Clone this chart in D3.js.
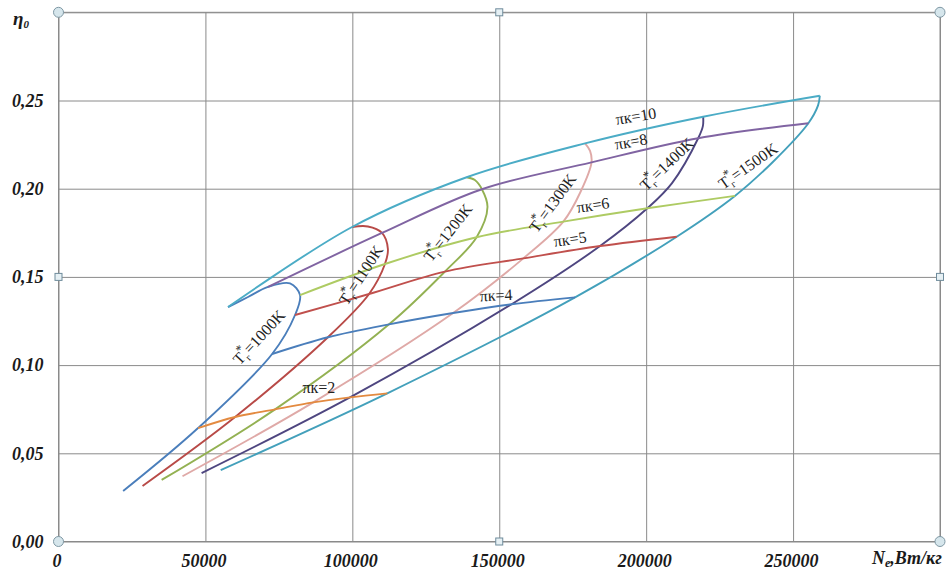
<!DOCTYPE html>
<html>
<head>
<meta charset="utf-8">
<script src="https://cdn.jsdelivr.net/npm/d3@7"></script>
<style>
  html, body { margin: 0; padding: 0; background: #fff; }
  svg { display: block; }
</style>
</head>
<body>
<svg id="chart" width="947" height="571"></svg>
<script>
// Compressor pressure ratio at each computed point of a temperature curve
const pressureRatio = [1.5, 2, 4, 5, 6, 7, 8, 9, 10];
// Pressure ratios drawn as constant-πк lines
const labelledRatios = [2, 4, 5, 6, 8, 10];
// Turbine inlet gas temperatures, K
const gasTemps = [1000, 1100, 1200, 1300, 1400, 1500];

// Specific power Ne (W/kg) and overall efficiency η0 for each gas temperature
const power1000 = [22000, 47500, 72700, 80500, 82200, 78800, 71300, 64500, 57700];
const eff1000   = [0.0286, 0.0643, 0.1063, 0.1284, 0.1397, 0.1463, 0.1443, 0.1386, 0.1329];

const power1100 = [28600, 60100, 91700, 105700, 111100, 112100, 110100, 105300, 99900];
const eff1100   = [0.0315, 0.0706, 0.1158, 0.1403, 0.1573, 0.1658, 0.1749, 0.1786, 0.1783];

const power1200 = [35100, 73700, 112500, 131500, 142300, 146000, 144100, 141700, 138900];
const eff1200   = [0.0349, 0.0749, 0.1231, 0.1530, 0.1725, 0.1896, 0.1997, 0.2049, 0.2065];

const power1300 = [42200, 86700, 134300, 158200, 171800, 177800, 181400, 180900, 179200];
const eff1300   = [0.0370, 0.0789, 0.1295, 0.1605, 0.1813, 0.1987, 0.2149, 0.2214, 0.2257];

const power1400 = [48700, 99200, 154200, 184300, 200400, 208800, 217700, 219300, 219400];
const eff1400   = [0.0388, 0.0817, 0.1345, 0.1675, 0.1889, 0.2032, 0.2286, 0.2355, 0.2408];

const power1500 = [55200, 111900, 175800, 210400, 230200, 243200, 255200, 258500, 259100];
const eff1500   = [0.0405, 0.0840, 0.1384, 0.1728, 0.1959, 0.2153, 0.2371, 0.2472, 0.2527];

// Axis ticks
const xTicks = [0, 50000, 100000, 150000, 200000, 250000, 300000];
const xTickLabels = ["0", "50000", "100000", "150000", "200000", "250000", ""];
const yTicks = [0, 0.05, 0.10, 0.15, 0.20, 0.25, 0.30];
const yTickLabels = ["0,00", "0,05", "0,10", "0,15", "0,20", "0,25", ""];

// ---- styling ----
const tempColors  = ["#4A7EBB", "#B84A47", "#93B152", "#DFA9A7", "#4E4680", "#43A0BB"];
const ratioColors = ["#E38A40", "#4A7EBB", "#C0504D", "#AECB63", "#8064A2", "#4BACC6"];
const serif = "'Liberation Serif', 'Times New Roman', serif";
const gridColor = "#8a8a8a";

const powers = [power1000, power1100, power1200, power1300, power1400, power1500];
const effs   = [eff1000, eff1100, eff1200, eff1300, eff1400, eff1500];

const svg = d3.select("#chart");
const x = d3.scaleLinear().domain([0, 300000]).range([58.5, 940]);
const y = d3.scaleLinear().domain([0, 0.30]).range([541.5, 12.3]);
const plotW = x(300000) - x(0);
const plotH = y(0) - y(0.30);

// Grid + x axis labels
const gx = svg.append("g")
  .attr("transform", `translate(0,${y(0)})`)
  .call(d3.axisBottom(x).tickValues(xTicks).tickSize(-plotH).tickPadding(13)
    .tickFormat((d, i) => xTickLabels[i]));
gx.select(".domain").remove();
gx.selectAll(".tick line").attr("stroke", gridColor).attr("stroke-width", 1);
gx.selectAll(".tick text")
  .attr("font-family", serif).attr("font-size", 18).attr("font-weight", "bold")
  .attr("font-style", "italic").attr("fill", "#1a1a1a").attr("dx", -2);

// Grid + y axis labels
const gy = svg.append("g")
  .attr("transform", `translate(${x(0)},0)`)
  .call(d3.axisLeft(y).tickValues(yTicks).tickSize(-plotW).tickPadding(15)
    .tickFormat((d, i) => yTickLabels[i]));
gy.select(".domain").remove();
gy.selectAll(".tick line").attr("stroke", gridColor).attr("stroke-width", 1);
gy.selectAll(".tick text")
  .attr("font-family", serif).attr("font-size", 18).attr("font-weight", "bold")
  .attr("font-style", "italic").attr("fill", "#1a1a1a");

// Plot frame
svg.append("rect")
  .attr("x", x(0)).attr("y", y(0.30)).attr("width", plotW).attr("height", plotH)
  .attr("fill", "none").attr("stroke", gridColor).attr("stroke-width", 1);

// Axis titles
const yTitle = svg.append("text")
  .attr("x", 13).attr("y", 25)
  .attr("font-family", serif).attr("font-weight", "bold").attr("font-style", "italic")
  .attr("font-size", 19).attr("fill", "#1a1a1a");
yTitle.append("tspan").text("η");
yTitle.append("tspan").attr("font-size", 11).attr("dy", 3).text("0");

const xTitle = svg.append("text")
  .attr("x", 872).attr("y", 564)
  .attr("font-family", serif).attr("font-weight", "bold").attr("font-style", "italic")
  .attr("font-size", 18).attr("fill", "#1a1a1a");
xTitle.append("tspan").text("N");
xTitle.append("tspan").attr("font-size", 12).attr("dy", 3).text("e");
xTitle.append("tspan").attr("dy", -3).text(",Вт/кг");

// Series
const tempSeries = gasTemps.map((t, i) => ({
  t,
  color: tempColors[i],
  points: pressureRatio.map((p, j) => ({ pi: p, ne: powers[i][j], eta: effs[i][j] }))
}));
const ratioSeries = labelledRatios.map((p, i) => ({
  p,
  color: ratioColors[i],
  points: tempSeries.map(s => s.points.find(q => q.pi === p))
}));

const line = d3.line()
  .x(d => x(d.ne)).y(d => y(d.eta))
  .curve(d3.curveCatmullRom.alpha(0.5));

const plot = svg.append("g");
plot.selectAll("path.temp").data(tempSeries).join("path")
  .attr("class", "temp")
  .attr("d", d => line(d.points))
  .attr("fill", "none").attr("stroke", d => d.color).attr("stroke-width", 1.9)
  .attr("stroke-linejoin", "round");
plot.selectAll("path.ratio").data(ratioSeries).join("path")
  .attr("class", "ratio")
  .attr("d", d => line(d.points))
  .attr("fill", "none").attr("stroke", d => d.color).attr("stroke-width", 1.9)
  .attr("stroke-linejoin", "round");

// Curve labels: [Ne, η, rotation]
const tempLabelAt = [
  [68200, 0.1159, -47], [102900, 0.1511, -57], [132500, 0.1752, -52],
  [168100, 0.1919, -54], [207000, 0.2140, -44], [234600, 0.2129, -35]
];
const ratioLabelAt = [
  [88600, 0.0876, 0], [148900, 0.1397, -3], [174100, 0.1715, -8],
  [181900, 0.1908, -8], [194800, 0.2268, -10], [196500, 0.2412, -9]
];

gasTemps.forEach((t, i) => {
  const [ne, eta, rot] = tempLabelAt[i];
  const g = svg.append("g")
    .attr("transform", `translate(${x(ne)},${y(eta)}) rotate(${rot})`);
  const txt = g.append("text")
    .attr("text-anchor", "middle").attr("dy", "0.35em")
    .attr("font-family", serif).attr("font-size", 16).attr("fill", "#222");
  txt.append("tspan").text("T");
  txt.append("tspan").attr("font-size", 10).attr("dy", 4).text("г");
  txt.append("tspan").attr("font-size", 13).attr("dx", -5).attr("dy", -11).text("*");
  txt.append("tspan").attr("dy", 7).text("=" + t + "K");
});

labelledRatios.forEach((p, i) => {
  const [ne, eta, rot] = ratioLabelAt[i];
  svg.append("text")
    .attr("transform", `translate(${x(ne)},${y(eta)}) rotate(${rot})`)
    .attr("text-anchor", "middle").attr("dy", "0.35em")
    .attr("font-family", serif).attr("font-size", 16).attr("fill", "#222")
    .text("πк=" + p);
});

// Selection handles on the plot frame
const x0 = x(0), x1 = x(300000), xm = (x0 + x1) / 2;
const y0 = y(0.30), y1 = y(0), ym = (y0 + y1) / 2;
const corners = [[x0, y0], [x1, y0], [x0, y1], [x1, y1]];
const mids = [[xm, y0], [x0, ym], [x1, ym], [xm, y1]];
svg.selectAll("circle.handle").data(corners).join("circle")
  .attr("class", "handle")
  .attr("cx", d => d[0]).attr("cy", d => d[1]).attr("r", 5)
  .attr("fill", "#d6e6ec").attr("stroke", "#7f98a4").attr("stroke-width", 1);
svg.selectAll("rect.handle").data(mids).join("rect")
  .attr("class", "handle")
  .attr("x", d => d[0] - 3.5).attr("y", d => d[1] - 3.5)
  .attr("width", 7).attr("height", 7)
  .attr("fill", "#e6f0f4").attr("stroke", "#6f8c9c").attr("stroke-width", 1);
</script>
</body>
</html>
